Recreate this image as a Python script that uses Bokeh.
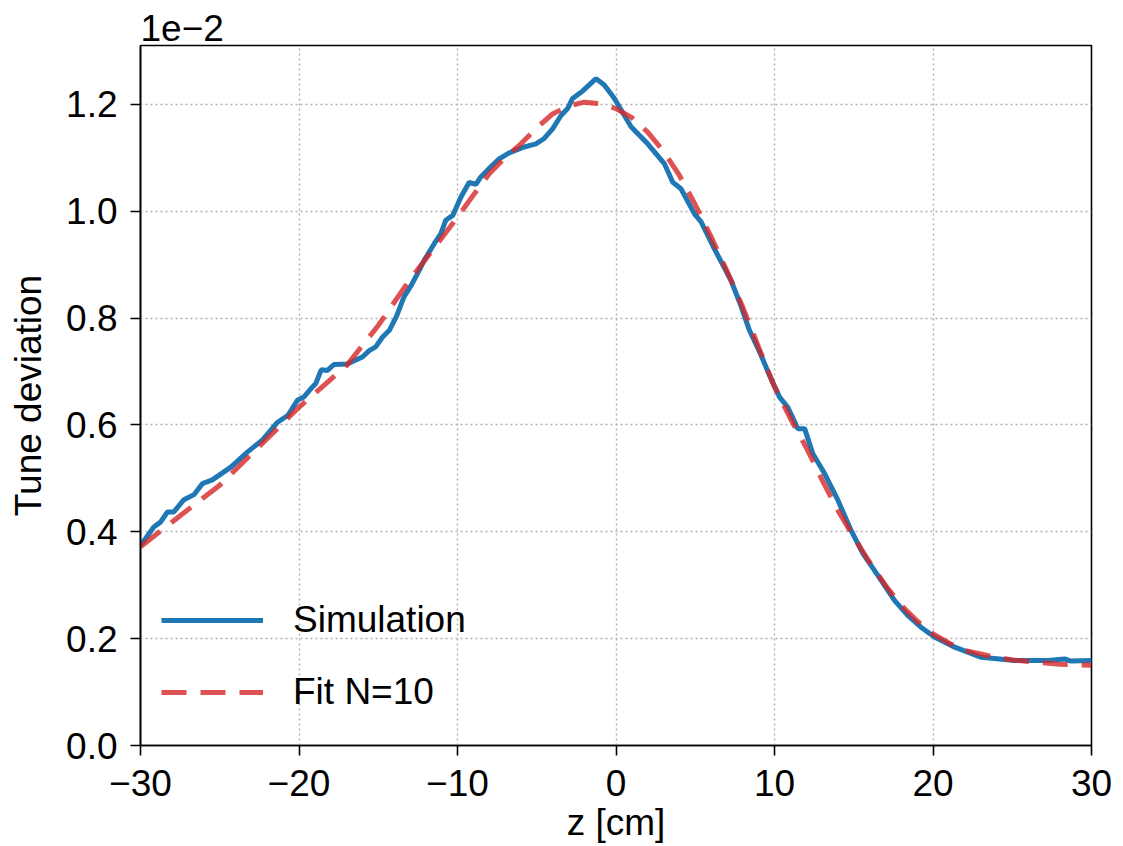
from bokeh.plotting import figure
from bokeh.models import Range1d, FixedTicker, Legend, LegendItem
from bokeh.embed import file_html
from bokeh.resources import INLINE

# ---- data (tune deviation in units of 1e-2) ----
sim_z = [-30.0, -29.16, -28.74, -28.3, -27.9, -27.26, -26.6, -26.1, -25.47, -24.3,
         -23.26, -22.3, -21.35, -20.7, -20.1, -19.7, -19.15, -18.95, -18.6, -18.2,
         -17.8, -16.95, -16.0, -15.57, -15.16, -14.74, -14.3, -13.85, -13.37, -12.9,
         -12.4, -12.1, -11.47, -11.05, -10.74, -10.3, -9.79, -9.26, -8.84, -8.53,
         -8.0, -7.37, -6.74, -5.79, -5.05, -4.53, -4.0, -3.47, -3.05, -2.74,
         -2.1, -1.26, -0.74, -0.1, 0.53, 0.95, 2.0, 3.05, 3.58, 4.1,
         4.95, 5.37, 6.2, 7.26, 7.79, 8.42, 9.16, 9.68, 10.32, 10.84,
         11.47, 11.9, 12.42, 13.16, 14.0, 14.84, 15.58, 16.53, 17.58, 18.42,
         19.26, 20.1, 21.37, 23.05, 25.16, 27.26, 28.3, 28.7, 30.0]
sim_v = [0.374, 0.409, 0.418, 0.437, 0.437, 0.46, 0.47, 0.49, 0.497, 0.521,
         0.549, 0.572, 0.605, 0.618, 0.646, 0.652, 0.671, 0.677, 0.703, 0.702,
         0.713, 0.714, 0.727, 0.739, 0.746, 0.764, 0.777, 0.803, 0.84, 0.862,
         0.89, 0.908, 0.939, 0.958, 0.983, 0.992, 1.026, 1.054, 1.050, 1.064,
         1.080, 1.098, 1.109, 1.120, 1.126, 1.136, 1.154, 1.179, 1.192, 1.211,
         1.225, 1.248, 1.236, 1.211, 1.179, 1.158, 1.126, 1.089, 1.054, 1.042,
         0.995, 0.980, 0.930, 0.870, 0.830, 0.777, 0.730, 0.693, 0.652, 0.633,
         0.593, 0.593, 0.546, 0.509, 0.459, 0.402, 0.359, 0.318, 0.271, 0.243,
         0.221, 0.203, 0.184, 0.165, 0.159, 0.159, 0.162, 0.158, 0.159]

fit_z = [-30, -27.5, -25, -22.5, -20, -17, -15, -13, -11.5, -10, -9, -8, -7, -6, -5,
         -4, -3, -2, -1, 0, 1, 2, 3, 4, 5, 6, 7, 8, 9, 10, 11, 12, 13, 14, 15,
         16, 17, 18, 19, 20, 21, 22, 23.5, 25, 26.5, 28, 30]
fit_v = [0.372, 0.43, 0.487, 0.56, 0.633, 0.711, 0.786, 0.872, 0.93, 0.989, 1.03, 1.07,
         1.10, 1.126, 1.156, 1.182, 1.197, 1.204, 1.201, 1.192, 1.175, 1.148, 1.112,
         1.067, 1.012, 0.952, 0.888, 0.82, 0.745, 0.671, 0.612, 0.558, 0.497, 0.44,
         0.39, 0.343, 0.30, 0.262, 0.233, 0.209, 0.192, 0.178, 0.168, 0.160, 0.156,
         0.152, 0.150]

x_ticks = [-30, -20, -10, 0, 10, 20, 30]
x_tick_labels = ["\u221230", "\u221220", "\u221210", "0", "10", "20", "30"]
y_ticks = [0.0, 0.2, 0.4, 0.6, 0.8, 1.0, 1.2]
y_tick_labels = ["0.0", "0.2", "0.4", "0.6", "0.8", "1.0", "1.2"]

FONT = "Liberation Sans"
FS = "37px"

p = figure(width=1123, height=846, output_backend="svg", toolbar_location=None,
           x_range=Range1d(-30, 30), y_range=Range1d(0, 1.31),
           min_border_left=140, min_border_right=32, min_border_top=45,
           min_border_bottom=101)

p.background_fill_color = "white"
p.border_fill_color = "white"
p.outline_line_color = "black"
p.outline_line_width = 1.6
p.outline_line_alpha = 1.0

# title "1e-2" offset label
p.title.text = "1e\u22122"
p.title.align = "left"
p.title.vertical_align = "top"
p.title.text_font = FONT
p.title.text_font_size = FS
p.title.text_font_style = "normal"
p.title.text_color = "black"
p.title.standoff = 6
p.title.offset = 0

for ax in (p.xaxis[0], p.yaxis[0]):
    ax.axis_line_color = "black"
    ax.axis_line_width = 1.6
    ax.major_tick_line_color = "black"
    ax.major_tick_line_width = 1.6
    ax.major_tick_out = 10
    ax.major_tick_in = 0
    ax.minor_tick_line_color = None
    ax.major_label_text_font = FONT
    ax.major_label_text_font_size = FS
    ax.major_label_text_color = "black"
    ax.axis_label_text_font = FONT
    ax.axis_label_text_font_size = FS
    ax.axis_label_text_font_style = "normal"
    ax.axis_label_text_color = "black"

p.xaxis.ticker = FixedTicker(ticks=x_ticks)
p.xaxis.major_label_overrides = dict(zip(x_ticks, x_tick_labels))
p.xaxis.major_label_standoff = 14
p.xaxis.axis_label = "z [cm]"
p.xaxis.axis_label_standoff = 3
p.yaxis.ticker = FixedTicker(ticks=y_ticks)
p.yaxis.major_label_overrides = dict(zip(y_ticks, y_tick_labels))
p.yaxis.major_label_standoff = 13
p.yaxis.axis_label = "Tune deviation"
p.yaxis.axis_label_standoff = 14

for g in (p.xgrid[0], p.ygrid[0]):
    g.grid_line_color = "#b0b0b0"
    g.grid_line_dash = "2 3"
    g.grid_line_width = 1.4

sim = p.line(sim_z, sim_v, line_color="#1f77b4", line_width=5)
fit = p.line(fit_z, fit_v, line_color="#d62728", line_alpha=0.8, line_width=5,
             line_dash="25 14")

legend = Legend(items=[LegendItem(label="Simulation", renderers=[sim]),
                       LegendItem(label="Fit N=10", renderers=[fit])],
                location=(21, 32))
legend.border_line_color = None
legend.background_fill_alpha = 0
legend.label_text_font = FONT
legend.label_text_font_size = FS
legend.label_text_color = "black"
legend.glyph_width = 102
legend.glyph_height = 40
legend.label_height = 40
legend.spacing = 30
legend.padding = 10
legend.margin = 0
legend.label_standoff = 30
p.add_layout(legend)

open("out.html", "w").write(file_html(p, INLINE))
